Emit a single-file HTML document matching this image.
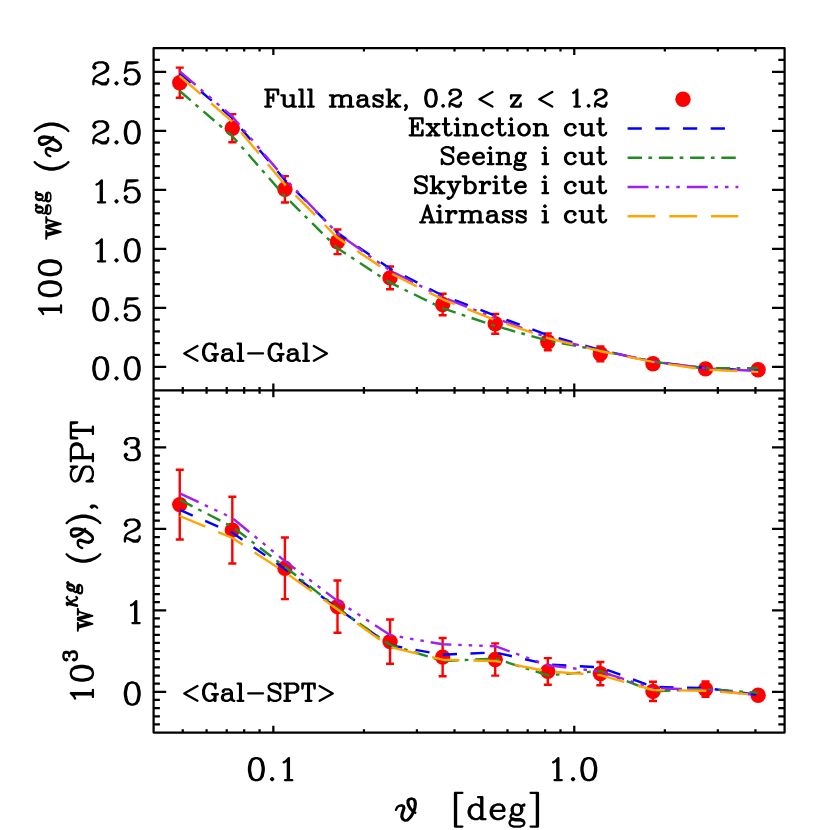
<!DOCTYPE html>
<html><head><meta charset="utf-8"><title>plot</title><style>html,body{margin:0;padding:0;background:#fff;font-family:"Liberation Sans",sans-serif}svg{display:block}</style></head><body><svg width="830" height="830" viewBox="0 0 830 830">
<rect width="830" height="830" fill="#fff"/>
<path d="M153.6 48.15H784.6V732.55H153.6ZM153.6 390.35H784.6M273.35 48.15v6.84M273.35 383.51v13.68M273.35 732.55v-6.84M574.27 48.15v6.84M574.27 383.51v13.68M574.27 732.55v-6.84M182.76 48.15v3.42M182.76 386.93v6.84M182.76 732.55v-3.42M206.59 48.15v3.42M206.59 386.93v6.84M206.59 732.55v-3.42M226.73 48.15v3.42M226.73 386.93v6.84M226.73 732.55v-3.42M244.19 48.15v3.42M244.19 386.93v6.84M244.19 732.55v-3.42M259.58 48.15v3.42M259.58 386.93v6.84M259.58 732.55v-3.42M363.93 48.15v3.42M363.93 386.93v6.84M363.93 732.55v-3.42M416.92 48.15v3.42M416.92 386.93v6.84M416.92 732.55v-3.42M454.52 48.15v3.42M454.52 386.93v6.84M454.52 732.55v-3.42M483.68 48.15v3.42M483.68 386.93v6.84M483.68 732.55v-3.42M507.51 48.15v3.42M507.51 386.93v6.84M507.51 732.55v-3.42M527.65 48.15v3.42M527.65 386.93v6.84M527.65 732.55v-3.42M545.1 48.15v3.42M545.1 386.93v6.84M545.1 732.55v-3.42M560.5 48.15v3.42M560.5 386.93v6.84M560.5 732.55v-3.42M664.85 48.15v3.42M664.85 386.93v6.84M664.85 732.55v-3.42M717.84 48.15v3.42M717.84 386.93v6.84M717.84 732.55v-3.42M755.44 48.15v3.42M755.44 386.93v6.84M755.44 732.55v-3.42M153.6 378.55h6.3M784.6 378.55h-6.3M153.6 366.75h12.6M784.6 366.75h-12.6M153.6 354.95h6.3M784.6 354.95h-6.3M153.6 343.15h6.3M784.6 343.15h-6.3M153.6 331.35h6.3M784.6 331.35h-6.3M153.6 319.55h6.3M784.6 319.55h-6.3M153.6 307.75h12.6M784.6 307.75h-12.6M153.6 295.95h6.3M784.6 295.95h-6.3M153.6 284.15h6.3M784.6 284.15h-6.3M153.6 272.35h6.3M784.6 272.35h-6.3M153.6 260.55h6.3M784.6 260.55h-6.3M153.6 248.75h12.6M784.6 248.75h-12.6M153.6 236.95h6.3M784.6 236.95h-6.3M153.6 225.15h6.3M784.6 225.15h-6.3M153.6 213.35h6.3M784.6 213.35h-6.3M153.6 201.55h6.3M784.6 201.55h-6.3M153.6 189.75h12.6M784.6 189.75h-12.6M153.6 177.95h6.3M784.6 177.95h-6.3M153.6 166.15h6.3M784.6 166.15h-6.3M153.6 154.35h6.3M784.6 154.35h-6.3M153.6 142.55h6.3M784.6 142.55h-6.3M153.6 130.75h12.6M784.6 130.75h-12.6M153.6 118.95h6.3M784.6 118.95h-6.3M153.6 107.15h6.3M784.6 107.15h-6.3M153.6 95.35h6.3M784.6 95.35h-6.3M153.6 83.55h6.3M784.6 83.55h-6.3M153.6 71.75h12.6M784.6 71.75h-12.6M153.6 59.95h6.3M784.6 59.95h-6.3M153.6 724.4h6.3M784.6 724.4h-6.3M153.6 716.25h6.3M784.6 716.25h-6.3M153.6 708.11h6.3M784.6 708.11h-6.3M153.6 699.96h6.3M784.6 699.96h-6.3M153.6 691.81h12.6M784.6 691.81h-12.6M153.6 683.66h6.3M784.6 683.66h-6.3M153.6 675.52h6.3M784.6 675.52h-6.3M153.6 667.37h6.3M784.6 667.37h-6.3M153.6 659.22h6.3M784.6 659.22h-6.3M153.6 651.07h6.3M784.6 651.07h-6.3M153.6 642.93h6.3M784.6 642.93h-6.3M153.6 634.78h6.3M784.6 634.78h-6.3M153.6 626.63h6.3M784.6 626.63h-6.3M153.6 618.48h6.3M784.6 618.48h-6.3M153.6 610.34h12.6M784.6 610.34h-12.6M153.6 602.19h6.3M784.6 602.19h-6.3M153.6 594.04h6.3M784.6 594.04h-6.3M153.6 585.89h6.3M784.6 585.89h-6.3M153.6 577.75h6.3M784.6 577.75h-6.3M153.6 569.6h6.3M784.6 569.6h-6.3M153.6 561.45h6.3M784.6 561.45h-6.3M153.6 553.3h6.3M784.6 553.3h-6.3M153.6 545.15h6.3M784.6 545.15h-6.3M153.6 537.01h6.3M784.6 537.01h-6.3M153.6 528.86h12.6M784.6 528.86h-12.6M153.6 520.71h6.3M784.6 520.71h-6.3M153.6 512.56h6.3M784.6 512.56h-6.3M153.6 504.42h6.3M784.6 504.42h-6.3M153.6 496.27h6.3M784.6 496.27h-6.3M153.6 488.12h6.3M784.6 488.12h-6.3M153.6 479.97h6.3M784.6 479.97h-6.3M153.6 471.83h6.3M784.6 471.83h-6.3M153.6 463.68h6.3M784.6 463.68h-6.3M153.6 455.53h6.3M784.6 455.53h-6.3M153.6 447.38h12.6M784.6 447.38h-12.6M153.6 439.24h6.3M784.6 439.24h-6.3M153.6 431.09h6.3M784.6 431.09h-6.3M153.6 422.94h6.3M784.6 422.94h-6.3M153.6 414.79h6.3M784.6 414.79h-6.3M153.6 406.65h6.3M784.6 406.65h-6.3M153.6 398.5h6.3M784.6 398.5h-6.3" fill="none" stroke="#000" stroke-width="2.25" stroke-linejoin="round" stroke-linecap="butt"/>
<path d="M179.75 67.6V97.8M175.75 67.6h8M175.75 97.8h8M232.33 114.1V142.3M228.33 114.1h8M228.33 142.3h8M284.91 176.1V202.5M280.91 176.1h8M280.91 202.5h8M337.49 229.5V254.1M333.49 229.5h8M333.49 254.1h8M390.07 266.5V289.3M386.07 266.5h8M386.07 289.3h8M442.65 293.8V315.2M438.65 293.8h8M438.65 315.2h8M495.23 313.9V333.7M491.23 313.9h8M491.23 333.7h8M547.81 333.4V350.2M543.81 333.4h8M543.81 350.2h8M600.39 346.4V361.2M596.39 346.4h8M596.39 361.2h8M652.97 358.8V368.8M648.97 358.8h8M648.97 368.8h8M705.55 365.4V372.4M701.55 365.4h8M701.55 372.4h8M758.13 367.2V372.2M754.13 367.2h8M754.13 372.2h8" fill="none" stroke="#f00" stroke-width="2.4"/>
<circle cx="179.75" cy="82.7" r="7.7" fill="#f00"/>
<circle cx="232.33" cy="128.2" r="7.7" fill="#f00"/>
<circle cx="284.91" cy="189.3" r="7.7" fill="#f00"/>
<circle cx="337.49" cy="241.8" r="7.7" fill="#f00"/>
<circle cx="390.07" cy="277.9" r="7.7" fill="#f00"/>
<circle cx="442.65" cy="304.5" r="7.7" fill="#f00"/>
<circle cx="495.23" cy="323.8" r="7.7" fill="#f00"/>
<circle cx="547.81" cy="341.8" r="7.7" fill="#f00"/>
<circle cx="600.39" cy="353.8" r="7.7" fill="#f00"/>
<circle cx="652.97" cy="363.8" r="7.7" fill="#f00"/>
<circle cx="705.55" cy="368.9" r="7.7" fill="#f00"/>
<circle cx="758.13" cy="369.7" r="7.7" fill="#f00"/>
<polyline points="179.75,73.65 232.33,118.1 284.91,180 337.49,232.85 390.07,268.7 442.65,295.6 495.23,315.6 547.81,335.2 600.39,350 652.97,361.6 705.55,368.3 758.13,370.2" fill="none" stroke="#0000ff" stroke-width="2.4" stroke-dasharray="14.2 13.5" stroke-linejoin="round"/>
<polyline points="179.75,91 232.33,136.2 284.91,196.2 337.49,248.3 390.07,282.7 442.65,308.2 495.23,326 547.81,340.6 600.39,350.5 652.97,361.7 705.55,368.3 758.13,368.3" fill="none" stroke="#228b22" stroke-width="2.4" stroke-dasharray="14.4 6.4 3.7 6.75" stroke-linejoin="round"/>
<polyline points="179.75,71.3 232.33,116.5 284.91,178.6 337.49,233.3 390.07,270.5 442.65,297.3 495.23,318 547.81,337.6 600.39,350.3 652.97,361.5 705.55,368.4 758.13,371" fill="none" stroke="#a020f0" stroke-width="2.4" stroke-dasharray="20.9 6.8 3.5 7 3.5 7 3.5 7" stroke-linejoin="round"/>
<polyline points="179.75,75.97 232.33,121.7 284.91,184.6 337.49,237.8 390.07,273 442.65,299.3 495.23,320.1 547.81,338.05 600.39,351.2 652.97,361.9 705.55,369.7 758.13,371.9" fill="none" stroke="#ffa500" stroke-width="2.4" stroke-dasharray="27.8 13.9" stroke-linejoin="round"/>
<path d="M179.75 469.7V539.5M175.75 469.7h8M175.75 539.5h8M232.33 496.7V563.5M228.33 496.7h8M228.33 563.5h8M284.91 537.5V599.1M280.91 537.5h8M280.91 599.1h8M337.49 580.5V632.7M333.49 580.5h8M333.49 632.7h8M390.07 619.5V663.7M386.07 619.5h8M386.07 663.7h8M442.65 638V676.2M438.65 638h8M438.65 676.2h8M495.23 643.4V675.6M491.23 643.4h8M491.23 675.6h8M547.81 658.1V684.7M543.81 658.1h8M543.81 684.7h8M600.39 662V685.2M596.39 662h8M596.39 685.2h8M652.97 681.8V701M648.97 681.8h8M648.97 701h8M705.55 681.5V696.9M701.55 681.5h8M701.55 696.9h8M758.13 690.2V700.2M754.13 690.2h8M754.13 700.2h8" fill="none" stroke="#f00" stroke-width="2.4"/>
<circle cx="179.75" cy="504.6" r="7.7" fill="#f00"/>
<circle cx="232.33" cy="530.1" r="7.7" fill="#f00"/>
<circle cx="284.91" cy="568.3" r="7.7" fill="#f00"/>
<circle cx="337.49" cy="606.6" r="7.7" fill="#f00"/>
<circle cx="390.07" cy="641.6" r="7.7" fill="#f00"/>
<circle cx="442.65" cy="657.1" r="7.7" fill="#f00"/>
<circle cx="495.23" cy="659.5" r="7.7" fill="#f00"/>
<circle cx="547.81" cy="671.4" r="7.7" fill="#f00"/>
<circle cx="600.39" cy="673.6" r="7.7" fill="#f00"/>
<circle cx="652.97" cy="691.4" r="7.7" fill="#f00"/>
<circle cx="705.55" cy="689.2" r="7.7" fill="#f00"/>
<circle cx="758.13" cy="695.2" r="7.7" fill="#f00"/>
<polyline points="179.75,509.9 232.33,532.7 284.91,568.9 337.49,608.3 390.07,645.3 442.65,654.7 495.23,652.4 547.81,664.5 600.39,667.3 652.97,686.9 705.55,688 758.13,694.9" fill="none" stroke="#0000ff" stroke-width="2.4" stroke-dasharray="14.2 13.5" stroke-linejoin="round"/>
<polyline points="179.75,499.8 232.33,526.7 284.91,566.8 337.49,608 390.07,644.9 442.65,661 495.23,658.6 547.81,675.3 600.39,671 652.97,691.4 705.55,688.9 758.13,692.8" fill="none" stroke="#228b22" stroke-width="2.4" stroke-dasharray="14.4 6.4 3.7 6.75" stroke-linejoin="round"/>
<polyline points="179.75,493.3 232.33,518 284.91,561.1 337.49,600.9 390.07,635.1 442.65,644.3 495.23,646.2 547.81,665.2 600.39,671.6 652.97,688.4 705.55,689.5 758.13,695.3" fill="none" stroke="#a020f0" stroke-width="2.4" stroke-dasharray="20.9 6.8 3.5 7 3.5 7 3.5 7" stroke-linejoin="round"/>
<polyline points="179.75,516 232.33,538 284.91,572.2 337.49,609.4 390.07,647 442.65,659.7 495.23,661 547.81,671.4 600.39,675.1 652.97,690 705.55,690.7 758.13,694.9" fill="none" stroke="#ffa500" stroke-width="2.4" stroke-dasharray="27.8 13.9" stroke-linejoin="round"/>
<circle cx="683" cy="99.2" r="7.7" fill="#f00"/>
<path d="M627.6 128.5H738.3" fill="none" stroke="#0000ff" stroke-width="2.4" stroke-dasharray="14.2 13.5"/>
<path d="M627.6 157.75H738.3" fill="none" stroke="#228b22" stroke-width="2.4" stroke-dasharray="14.4 6.4 3.7 6.75"/>
<path d="M627.6 187.0H738.3" fill="none" stroke="#a020f0" stroke-width="2.4" stroke-dasharray="20.9 6.8 3.5 7 3.5 7 3.5 7"/>
<path d="M627.6 216.2H738.3" fill="none" stroke="#ffa500" stroke-width="2.4" stroke-dasharray="27.8 13.9"/>
<path d="M267.64 89.62L267.64 106.6M268.45 89.62L268.45 106.6M265.21 89.62L278.15 89.62L278.15 94.47L277.34 89.62M273.3 94.47L273.3 100.94M265.21 106.6L270.87 106.6M268.45 97.71L273.3 97.71M292.7 95.28L292.7 106.6L295.94 106.6M293.51 106.6L293.51 95.28L290.28 95.28M283.81 95.28L283.81 104.17L284.62 105.79L287.04 106.6L285.43 105.79L284.62 104.17L284.62 95.28L281.38 95.28M287.04 106.6L288.66 106.6L291.08 105.79L292.7 104.17M301.6 89.62L301.6 106.6M302.4 106.6L302.4 89.62L299.17 89.62M299.17 106.6L304.83 106.6M310.49 89.62L310.49 106.6M311.3 106.6L311.3 89.62L308.06 89.62M308.06 106.6L313.72 106.6M332.32 95.28L332.32 106.6M333.13 106.6L333.13 95.28L329.89 95.28M341.21 106.6L341.21 97.71L340.4 96.09L338.79 95.28L341.21 96.09L342.02 97.71L342.02 106.6M342.02 97.71L343.64 96.09L346.06 95.28L347.68 95.28L350.11 96.09L350.91 97.71L350.91 106.6M350.11 106.6L350.11 97.71L349.3 96.09L347.68 95.28M329.89 106.6L335.55 106.6M338.79 106.6L344.45 106.6M347.68 106.6L353.34 106.6M338.79 95.28L337.17 95.28L334.74 96.09L333.13 97.71M366.28 96.9L366.28 104.17L364.66 105.79L363.04 106.6L360.62 106.6L358.19 105.79L357.38 104.17L357.38 102.56L358.19 100.94L360.62 100.13L365.47 99.32L366.28 98.51M366.28 96.9L367.08 98.51L367.08 104.17L367.89 105.79L368.7 106.6L367.08 105.79L366.28 104.17M366.28 96.9L365.47 96.09L363.85 95.28L360.62 95.28L359 96.09L358.19 96.9L358.19 97.71L359 97.71L359 96.9M360.62 100.13L359 100.94L358.19 102.56L358.19 104.17L359 105.79L360.62 106.6M368.7 106.6L369.51 106.6M374.36 104.98L373.55 103.37L373.55 106.6L374.36 104.98L375.17 105.79L376.79 106.6L380.02 106.6L381.64 105.79L382.45 104.98L382.45 102.56L381.64 101.75L374.36 98.51L373.55 97.71M381.64 96.9L382.45 95.28L382.45 98.51L381.64 96.9L380.83 96.09L379.21 95.28L375.98 95.28L374.36 96.09L373.55 96.9L373.55 98.51L374.36 99.32L381.64 102.56L382.45 103.37M388.91 89.62L388.91 106.6M389.72 106.6L389.72 89.62L386.49 89.62M389.72 103.37L397.81 95.28M392.96 100.13L397.81 106.6M393.76 100.13L398.62 106.6M386.49 106.6L392.15 106.6M395.38 95.28L400.23 95.28M395.38 106.6L400.23 106.6M405.89 106.6L405.08 105.79L405.89 104.98L406.7 105.79L406.7 107.41L405.89 109.03L405.08 109.83M430.15 89.62L427.72 90.43L426.1 92.86L425.3 96.9L425.3 99.32L426.1 103.37L427.72 105.79L430.15 106.6L428.53 105.79L427.72 104.98L426.91 103.37L426.1 99.32L426.1 96.9L426.91 92.86L427.72 91.24L428.53 90.43L430.15 89.62L431.76 89.62L434.19 90.43L435.81 92.86L436.62 96.9L436.62 99.32L435.81 103.37L434.19 105.79L431.76 106.6L433.38 105.79L434.19 104.98L435 103.37L435.81 99.32L435.81 96.9L435 92.86L434.19 91.24L433.38 90.43L431.76 89.62M430.15 106.6L431.76 106.6M442.27 105.79L443.08 104.98L443.89 105.79L443.08 106.6L442.27 105.79M451.98 104.17L456.02 106.6L459.25 106.6L460.06 105.79L460.87 104.17L460.87 102.56M451.98 104.17L456.02 105.79L458.44 105.79L460.06 104.98L460.87 104.17M451.98 104.17L450.36 104.17L449.55 104.98M453.59 99.32L457.64 97.71L460.06 96.09L460.87 94.47L460.87 92.86L460.06 91.24L459.25 90.43L456.83 89.62L453.59 89.62L451.17 90.43L450.36 91.24L449.55 92.86L449.55 93.66L450.36 94.47L451.17 93.66L450.36 92.86M456.83 89.62L458.44 90.43L459.25 91.24L460.06 92.86L460.06 94.47L459.25 96.09L456.83 97.71L451.98 100.13L450.36 101.75L449.55 104.17L449.55 106.6M492.4 92.05L479.47 99.32L492.4 106.6M519.89 95.28L511 106.6L520.7 106.6L520.7 103.37L519.89 106.6M511.81 106.6L520.7 95.28L511 95.28L511 98.51L511.81 95.28M552.23 92.05L539.29 99.32L552.23 106.6M577.29 106.6L577.29 89.62L574.87 92.05L573.25 92.86M576.49 90.43L576.49 106.6M574.38 106.6L579.88 106.6M587.8 105.79L588.61 104.98L589.42 105.79L588.61 106.6L587.8 105.79M597.51 104.17L601.55 106.6L604.78 106.6L605.59 105.79L606.4 104.17L606.4 102.56M597.51 104.17L601.55 105.79L603.97 105.79L605.59 104.98L606.4 104.17M597.51 104.17L595.89 104.17L595.08 104.98M599.12 99.32L603.17 97.71L605.59 96.09L606.4 94.47L606.4 92.86L605.59 91.24L604.78 90.43L602.36 89.62L599.12 89.62L596.7 90.43L595.89 91.24L595.08 92.86L595.08 93.66L595.89 94.47L596.7 93.66L595.89 92.86M602.36 89.62L603.97 90.43L604.78 91.24L605.59 92.86L605.59 94.47L604.78 96.09L602.36 97.71L597.51 100.13L595.89 101.75L595.08 104.17L595.08 106.6M412.1 118.4L412.1 135.3M412.9 118.4L412.9 135.3M409.68 118.4L422.56 118.4L422.56 123.23L421.75 118.4M409.68 135.3L422.56 135.3L422.56 130.47L421.75 135.3M417.73 123.23L417.73 129.67M412.9 126.45L417.73 126.45M428.2 135.3L437.86 124.03M428.2 124.03L437.05 135.3M429 124.03L437.86 135.3M426.59 124.03L431.42 124.03M426.59 135.3L431.42 135.3M434.63 124.03L439.47 124.03M434.63 135.3L439.47 135.3M445.1 118.4L445.1 132.08L445.9 134.5L447.51 135.3L449.12 135.3L450.74 134.5L451.54 132.89M445.9 118.4L445.9 132.08L446.71 134.5L447.51 135.3M442.69 124.03L449.12 124.03M457.18 124.03L457.18 135.3M457.98 135.3L457.98 124.03L454.76 124.03M454.76 135.3L460.39 135.3M456.37 119.2L457.18 118.4L457.98 119.2L457.18 120.01L456.37 119.2M466.03 124.03L466.03 135.3M466.84 135.3L466.84 124.03L463.62 124.03M474.88 135.3L474.88 126.45L474.08 124.84L472.47 124.03L474.88 124.84L475.69 126.45L475.69 135.3M463.62 135.3L469.25 135.3M472.47 135.3L478.11 135.3M472.47 124.03L470.86 124.03L468.45 124.84L466.84 126.45M486.96 124.03L484.55 124.84L482.94 126.45L482.13 128.86L482.13 130.47L482.94 132.89L484.55 134.5L486.96 135.3L485.35 134.5L483.74 132.89L482.94 130.47L482.94 128.86L483.74 126.45L485.35 124.84L486.96 124.03L489.38 124.03L490.99 124.84L492.6 126.45L492.6 127.25L491.79 128.06L490.99 127.25L491.79 126.45M486.96 135.3L488.57 135.3L490.99 134.5L492.6 132.89M499.04 118.4L499.04 132.08L499.84 134.5L501.45 135.3L503.06 135.3L504.67 134.5L505.48 132.89M499.84 118.4L499.84 132.08L500.64 134.5L501.45 135.3M496.62 124.03L503.06 124.03M511.11 124.03L511.11 135.3M511.92 135.3L511.92 124.03L508.7 124.03M508.7 135.3L514.33 135.3M510.31 119.2L511.11 118.4L511.92 119.2L511.11 120.01L510.31 119.2M523.19 124.03L520.77 124.84L519.16 126.45L518.36 128.86L518.36 130.47L519.16 132.89L520.77 134.5L523.19 135.3L521.58 134.5L519.97 132.89L519.16 130.47L519.16 128.86L519.97 126.45L521.58 124.84L523.19 124.03L524.8 124.03L527.21 124.84L528.82 126.45L529.62 128.86L529.62 130.47L528.82 132.89L527.21 134.5L524.8 135.3L526.4 134.5L528.01 132.89L528.82 130.47L528.82 128.86L528.01 126.45L526.4 124.84L524.8 124.03M523.19 135.3L524.8 135.3M536.07 124.03L536.07 135.3M536.87 135.3L536.87 124.03L533.65 124.03M544.92 135.3L544.92 126.45L544.12 124.84L542.5 124.03L544.92 124.84L545.73 126.45L545.73 135.3M533.65 135.3L539.29 135.3M542.5 135.3L548.14 135.3M542.5 124.03L540.89 124.03L538.48 124.84L536.87 126.45M569.88 124.03L567.46 124.84L565.85 126.45L565.05 128.86L565.05 130.47L565.85 132.89L567.46 134.5L569.88 135.3L568.26 134.5L566.65 132.89L565.85 130.47L565.85 128.86L566.65 126.45L568.26 124.84L569.88 124.03L572.29 124.03L573.9 124.84L575.51 126.45L575.51 127.25L574.71 128.06L573.9 127.25L574.71 126.45M569.88 135.3L571.49 135.3L573.9 134.5L575.51 132.89M590.81 124.03L590.81 135.3L594.02 135.3M591.61 135.3L591.61 124.03L588.39 124.03M581.95 124.03L581.95 132.89L582.75 134.5L585.17 135.3L583.56 134.5L582.75 132.89L582.75 124.03L579.53 124.03M585.17 135.3L586.78 135.3L589.2 134.5L590.81 132.89M599.66 118.4L599.66 132.08L600.47 134.5L602.08 135.3L603.69 135.3L605.3 134.5L606.1 132.89M600.47 118.4L600.47 132.08L601.27 134.5L602.08 135.3M597.25 124.03L603.69 124.03M453.15 158.47L453.15 161.69L451.54 163.29L449.12 164.1L446.71 164.1L444.3 163.29L442.69 161.69L441.88 159.27L441.88 164.1L442.69 161.69M453.15 158.47L451.54 156.85L449.93 156.05L445.1 154.44L443.49 153.63L442.69 152.83L441.88 151.22L443.49 152.83L445.1 153.63L449.93 155.25L451.54 156.05L452.35 156.85L453.15 158.47M452.35 149.61L453.15 147.19L453.15 152.03L452.35 149.61L450.74 148L448.32 147.19L445.9 147.19L443.49 148L441.88 149.61L441.88 151.22M458.79 157.66L468.45 157.66L468.45 156.05L467.64 154.44L466.84 153.63L465.23 152.83L462.81 152.83L460.39 153.63L458.79 155.25L457.98 157.66L457.98 159.27L458.79 161.69L460.39 163.29L462.81 164.1L461.2 163.29L459.59 161.69L458.79 159.27L458.79 157.66L459.59 155.25L461.2 153.63L462.81 152.83M462.81 164.1L464.42 164.1L466.84 163.29L468.45 161.69M467.64 157.66L467.64 155.25L466.84 153.63M474.08 157.66L483.74 157.66L483.74 156.05L482.94 154.44L482.13 153.63L480.52 152.83L478.11 152.83L475.69 153.63L474.08 155.25L473.27 157.66L473.27 159.27L474.08 161.69L475.69 163.29L478.11 164.1L476.5 163.29L474.88 161.69L474.08 159.27L474.08 157.66L474.88 155.25L476.5 153.63L478.11 152.83M478.11 164.1L479.72 164.1L482.13 163.29L483.74 161.69M482.94 157.66L482.94 155.25L482.13 153.63M490.18 152.83L490.18 164.1M490.99 164.1L490.99 152.83L487.76 152.83M487.76 164.1L493.4 164.1M489.38 148L490.18 147.19L490.99 148L490.18 148.81L489.38 148M499.04 152.83L499.04 164.1M499.84 164.1L499.84 152.83L496.62 152.83M507.89 164.1L507.89 155.25L507.09 153.63L505.48 152.83L507.89 153.63L508.7 155.25L508.7 164.1M496.62 164.1L502.25 164.1M505.48 164.1L511.11 164.1M505.48 152.83L503.87 152.83L501.45 153.63L499.84 155.25M517.55 164.1L515.13 164.91L514.33 166.51L514.33 167.32L515.13 168.93L517.55 169.73L522.38 169.73L524.8 168.93L525.6 167.32L525.6 166.51L524.8 164.91L522.38 164.1L518.36 164.1L515.94 163.29L515.13 162.49L515.94 164.1L518.36 164.91L522.38 164.91L524.8 165.71L525.6 166.51M515.13 162.49L515.13 161.69L515.94 160.07L516.75 159.27L515.94 157.66L515.94 156.05L516.75 154.44L517.55 153.63L516.75 155.25L516.75 158.47L517.55 160.07L519.16 160.88L520.77 160.88L522.38 160.07L523.19 158.47L523.19 155.25L522.38 153.63L520.77 152.83L519.16 152.83L517.55 153.63M516.75 159.27L517.55 160.07M522.38 153.63L523.19 154.44L523.99 156.05L523.99 157.66L523.19 159.27L522.38 160.07M523.19 154.44L523.99 153.63L525.6 152.83L525.6 153.63L523.99 153.63M544.92 152.83L544.92 164.1M545.73 164.1L545.73 152.83L542.5 152.83M542.5 164.1L548.14 164.1M544.12 148L544.92 147.19L545.73 148L544.92 148.81L544.12 148M569.88 152.83L567.46 153.63L565.85 155.25L565.05 157.66L565.05 159.27L565.85 161.69L567.46 163.29L569.88 164.1L568.26 163.29L566.65 161.69L565.85 159.27L565.85 157.66L566.65 155.25L568.26 153.63L569.88 152.83L572.29 152.83L573.9 153.63L575.51 155.25L575.51 156.05L574.71 156.85L573.9 156.05L574.71 155.25M569.88 164.1L571.49 164.1L573.9 163.29L575.51 161.69M590.81 152.83L590.81 164.1L594.02 164.1M591.61 164.1L591.61 152.83L588.39 152.83M581.95 152.83L581.95 161.69L582.75 163.29L585.17 164.1L583.56 163.29L582.75 161.69L582.75 152.83L579.53 152.83M585.17 164.1L586.78 164.1L589.2 163.29L590.81 161.69M599.66 147.19L599.66 160.88L600.47 163.29L602.08 164.1L603.69 164.1L605.3 163.29L606.1 161.69M600.47 147.19L600.47 160.88L601.27 163.29L602.08 164.1M597.25 152.83L603.69 152.83M426.59 187.56L426.59 190.78L424.98 192.39L422.56 193.2L420.14 193.2L417.73 192.39L416.12 190.78L415.31 188.37L415.31 193.2L416.12 190.78M426.59 187.56L424.98 185.95L423.37 185.15L418.54 183.54L416.93 182.73L416.12 181.93L415.31 180.32L416.93 181.93L418.54 182.73L423.37 184.34L424.98 185.15L425.78 185.95L426.59 187.56M425.78 178.71L426.59 176.29L426.59 181.12L425.78 178.71L424.17 177.1L421.75 176.29L419.34 176.29L416.93 177.1L415.31 178.71L415.31 180.32M433.02 176.29L433.02 193.2M433.83 193.2L433.83 176.29L430.61 176.29M433.83 189.98L441.88 181.93M437.05 186.76L441.88 193.2M437.86 186.76L442.69 193.2M430.61 193.2L436.25 193.2M439.47 181.93L444.3 181.93M439.47 193.2L444.3 193.2M449.12 181.93L453.96 193.2L458.79 181.93M453.96 193.2L452.35 196.42L450.74 198.03L449.12 198.83L448.32 198.83L447.51 198.03L448.32 197.22L449.12 198.03M449.93 181.93L453.96 191.59M453.15 194.81L456.37 187.56M447.51 181.93L452.35 181.93M455.57 181.93L460.39 181.93M465.23 176.29L465.23 193.2M466.03 193.2L466.03 176.29L462.81 176.29M470.86 181.93L473.27 182.73L474.88 184.34L475.69 186.76L475.69 188.37L474.88 190.78L473.27 192.39L470.86 193.2L472.47 192.39L474.08 190.78L474.88 188.37L474.88 186.76L474.08 184.34L472.47 182.73L470.86 181.93L469.25 181.93L467.64 182.73L466.03 184.34M470.86 193.2L469.25 193.2L467.64 192.39L466.03 190.78M482.13 181.93L482.13 193.2M482.94 193.2L482.94 181.93L479.72 181.93M479.72 193.2L485.35 193.2M482.94 186.76L483.74 184.34L485.35 182.73L486.96 181.93L489.38 181.93L490.18 182.73L490.18 183.54L489.38 184.34L488.57 183.54L489.38 182.73M495.81 181.93L495.81 193.2M496.62 193.2L496.62 181.93L493.4 181.93M493.4 193.2L499.04 193.2M495.01 177.1L495.81 176.29L496.62 177.1L495.81 177.9L495.01 177.1M504.67 176.29L504.67 189.98L505.48 192.39L507.09 193.2L508.7 193.2L510.31 192.39L511.11 190.78M505.48 176.29L505.48 189.98L506.28 192.39L507.09 193.2M502.25 181.93L508.7 181.93M515.94 186.76L525.6 186.76L525.6 185.15L524.8 183.54L523.99 182.73L522.38 181.93L519.97 181.93L517.55 182.73L515.94 184.34L515.13 186.76L515.13 188.37L515.94 190.78L517.55 192.39L519.97 193.2L518.36 192.39L516.75 190.78L515.94 188.37L515.94 186.76L516.75 184.34L518.36 182.73L519.97 181.93M519.97 193.2L521.58 193.2L523.99 192.39L525.6 190.78M524.8 186.76L524.8 184.34L523.99 182.73M544.92 181.93L544.92 193.2M545.73 193.2L545.73 181.93L542.5 181.93M542.5 193.2L548.14 193.2M544.12 177.1L544.92 176.29L545.73 177.1L544.92 177.9L544.12 177.1M569.88 181.93L567.46 182.73L565.85 184.34L565.05 186.76L565.05 188.37L565.85 190.78L567.46 192.39L569.88 193.2L568.26 192.39L566.65 190.78L565.85 188.37L565.85 186.76L566.65 184.34L568.26 182.73L569.88 181.93L572.29 181.93L573.9 182.73L575.51 184.34L575.51 185.15L574.71 185.95L573.9 185.15L574.71 184.34M569.88 193.2L571.49 193.2L573.9 192.39L575.51 190.78M590.81 181.93L590.81 193.2L594.02 193.2M591.61 193.2L591.61 181.93L588.39 181.93M581.95 181.93L581.95 190.78L582.75 192.39L585.17 193.2L583.56 192.39L582.75 190.78L582.75 181.93L579.53 181.93M585.17 193.2L586.78 193.2L589.2 192.39L590.81 190.78M599.66 176.29L599.66 189.98L600.47 192.39L602.08 193.2L603.69 193.2L605.3 192.39L606.1 190.78M600.47 176.29L600.47 189.98L601.27 192.39L602.08 193.2M597.25 181.93L603.69 181.93M421.75 222.3L427.39 205.4L433.02 222.3M427.39 207.81L432.22 222.3M423.37 217.47L430.61 217.47M420.14 222.3L424.98 222.3M429.81 222.3L434.63 222.3M439.47 211.03L439.47 222.3M440.27 222.3L440.27 211.03L437.05 211.03M437.05 222.3L442.69 222.3M438.66 206.2L439.47 205.4L440.27 206.2L439.47 207L438.66 206.2M448.32 211.03L448.32 222.3M449.12 222.3L449.12 211.03L445.9 211.03M445.9 222.3L451.54 222.3M449.12 215.86L449.93 213.45L451.54 211.84L453.15 211.03L455.57 211.03L456.37 211.84L456.37 212.64L455.57 213.45L454.76 212.64L455.57 211.84M462 211.03L462 222.3M462.81 222.3L462.81 211.03L459.59 211.03M470.86 222.3L470.86 213.45L470.06 211.84L468.45 211.03L470.86 211.84L471.67 213.45L471.67 222.3M471.67 213.45L473.27 211.84L475.69 211.03L477.3 211.03L479.72 211.84L480.52 213.45L480.52 222.3M479.72 222.3L479.72 213.45L478.91 211.84L477.3 211.03M459.59 222.3L465.23 222.3M468.45 222.3L474.08 222.3M477.3 222.3L482.94 222.3M468.45 211.03L466.84 211.03L464.42 211.84L462.81 213.45M495.81 212.64L495.81 219.89L494.21 221.5L492.6 222.3L490.18 222.3L487.76 221.5L486.96 219.89L486.96 218.28L487.76 216.67L490.18 215.86L495.01 215.06L495.81 214.25M495.81 212.64L496.62 214.25L496.62 219.89L497.43 221.5L498.23 222.3L496.62 221.5L495.81 219.89M495.81 212.64L495.01 211.84L493.4 211.03L490.18 211.03L488.57 211.84L487.76 212.64L487.76 213.45L488.57 213.45L488.57 212.64M490.18 215.86L488.57 216.67L487.76 218.28L487.76 219.89L488.57 221.5L490.18 222.3M498.23 222.3L499.04 222.3M503.87 220.69L503.06 219.08L503.06 222.3L503.87 220.69L504.67 221.5L506.28 222.3L509.5 222.3L511.11 221.5L511.92 220.69L511.92 218.28L511.11 217.47L503.87 214.25L503.06 213.45M511.11 212.64L511.92 211.03L511.92 214.25L511.11 212.64L510.31 211.84L508.7 211.03L505.48 211.03L503.87 211.84L503.06 212.64L503.06 214.25L503.87 215.06L511.11 218.28L511.92 219.08M517.55 220.69L516.75 219.08L516.75 222.3L517.55 220.69L518.36 221.5L519.97 222.3L523.19 222.3L524.8 221.5L525.6 220.69L525.6 218.28L524.8 217.47L517.55 214.25L516.75 213.45M524.8 212.64L525.6 211.03L525.6 214.25L524.8 212.64L523.99 211.84L522.38 211.03L519.16 211.03L517.55 211.84L516.75 212.64L516.75 214.25L517.55 215.06L524.8 218.28L525.6 219.08M544.92 211.03L544.92 222.3M545.73 222.3L545.73 211.03L542.5 211.03M542.5 222.3L548.14 222.3M544.12 206.2L544.92 205.4L545.73 206.2L544.92 207L544.12 206.2M569.88 211.03L567.46 211.84L565.85 213.45L565.05 215.86L565.05 217.47L565.85 219.89L567.46 221.5L569.88 222.3L568.26 221.5L566.65 219.89L565.85 217.47L565.85 215.86L566.65 213.45L568.26 211.84L569.88 211.03L572.29 211.03L573.9 211.84L575.51 213.45L575.51 214.25L574.71 215.06L573.9 214.25L574.71 213.45M569.88 222.3L571.49 222.3L573.9 221.5L575.51 219.89M590.81 211.03L590.81 222.3L594.02 222.3M591.61 222.3L591.61 211.03L588.39 211.03M581.95 211.03L581.95 219.89L582.75 221.5L585.17 222.3L583.56 221.5L582.75 219.89L582.75 211.03L579.53 211.03M585.17 222.3L586.78 222.3L589.2 221.5L590.81 219.89M599.66 205.4L599.66 219.08L600.47 221.5L602.08 222.3L603.69 222.3L605.3 221.5L606.1 219.89M600.47 205.4L600.47 219.08L601.27 221.5L602.08 222.3M597.25 211.03L603.69 211.03M197.42 346.04L184.3 353.42L197.42 360.8M214.64 354.24L214.64 360.8M215.46 354.24L215.46 360.8M212.18 354.24L217.92 354.24M208.9 343.58L206.44 344.4L204.8 346.04L203.98 347.68L203.16 350.14L203.16 354.24L203.98 356.7L204.8 358.34L206.44 359.98L208.9 360.8L207.26 359.98L205.62 358.34L204.8 356.7L203.98 354.24L203.98 350.14L204.8 347.68L205.62 346.04L207.26 344.4L208.9 343.58L210.54 343.58L213 344.4L214.64 346.04L215.46 343.58L215.46 348.5L214.64 346.04M208.9 360.8L210.54 360.8L213 359.98L214.64 358.34M231.04 350.96L231.04 358.34L229.4 359.98L227.76 360.8L225.3 360.8L222.84 359.98L222.02 358.34L222.02 356.7L222.84 355.06L225.3 354.24L230.22 353.42L231.04 352.6M231.04 350.96L231.86 352.6L231.86 358.34L232.68 359.98L233.5 360.8L231.86 359.98L231.04 358.34M231.04 350.96L230.22 350.14L228.58 349.32L225.3 349.32L223.66 350.14L222.84 350.96L222.84 351.78L223.66 351.78L223.66 350.96M225.3 354.24L223.66 355.06L222.84 356.7L222.84 358.34L223.66 359.98L225.3 360.8M233.5 360.8L234.32 360.8M240.06 343.58L240.06 360.8M240.88 360.8L240.88 343.58L237.6 343.58M237.6 360.8L243.34 360.8M248.26 353.42L263.02 353.42M280.24 354.24L280.24 360.8M281.06 354.24L281.06 360.8M277.78 354.24L283.52 354.24M274.5 343.58L272.04 344.4L270.4 346.04L269.58 347.68L268.76 350.14L268.76 354.24L269.58 356.7L270.4 358.34L272.04 359.98L274.5 360.8L272.86 359.98L271.22 358.34L270.4 356.7L269.58 354.24L269.58 350.14L270.4 347.68L271.22 346.04L272.86 344.4L274.5 343.58L276.14 343.58L278.6 344.4L280.24 346.04L281.06 343.58L281.06 348.5L280.24 346.04M274.5 360.8L276.14 360.8L278.6 359.98L280.24 358.34M296.64 350.96L296.64 358.34L295 359.98L293.36 360.8L290.9 360.8L288.44 359.98L287.62 358.34L287.62 356.7L288.44 355.06L290.9 354.24L295.82 353.42L296.64 352.6M296.64 350.96L297.46 352.6L297.46 358.34L298.28 359.98L299.1 360.8L297.46 359.98L296.64 358.34M296.64 350.96L295.82 350.14L294.18 349.32L290.9 349.32L289.26 350.14L288.44 350.96L288.44 351.78L289.26 351.78L289.26 350.96M290.9 354.24L289.26 355.06L288.44 356.7L288.44 358.34L289.26 359.98L290.9 360.8M299.1 360.8L299.92 360.8M305.66 343.58L305.66 360.8M306.48 360.8L306.48 343.58L303.2 343.58M303.2 360.8L308.94 360.8M313.86 346.04L326.98 353.42L313.86 360.8M197.42 686.04L184.3 693.42L197.42 700.8M214.64 694.24L214.64 700.8M215.46 694.24L215.46 700.8M212.18 694.24L217.92 694.24M208.9 683.58L206.44 684.4L204.8 686.04L203.98 687.68L203.16 690.14L203.16 694.24L203.98 696.7L204.8 698.34L206.44 699.98L208.9 700.8L207.26 699.98L205.62 698.34L204.8 696.7L203.98 694.24L203.98 690.14L204.8 687.68L205.62 686.04L207.26 684.4L208.9 683.58L210.54 683.58L213 684.4L214.64 686.04L215.46 683.58L215.46 688.5L214.64 686.04M208.9 700.8L210.54 700.8L213 699.98L214.64 698.34M231.04 690.96L231.04 698.34L229.4 699.98L227.76 700.8L225.3 700.8L222.84 699.98L222.02 698.34L222.02 696.7L222.84 695.06L225.3 694.24L230.22 693.42L231.04 692.6M231.04 690.96L231.86 692.6L231.86 698.34L232.68 699.98L233.5 700.8L231.86 699.98L231.04 698.34M231.04 690.96L230.22 690.14L228.58 689.32L225.3 689.32L223.66 690.14L222.84 690.96L222.84 691.78L223.66 691.78L223.66 690.96M225.3 694.24L223.66 695.06L222.84 696.7L222.84 698.34L223.66 699.98L225.3 700.8M233.5 700.8L234.32 700.8M240.06 683.58L240.06 700.8M240.88 700.8L240.88 683.58L237.6 683.58M237.6 700.8L243.34 700.8M248.26 693.42L263.02 693.42M280.24 695.06L280.24 698.34L278.6 699.98L276.14 700.8L273.68 700.8L271.22 699.98L269.58 698.34L268.76 695.88L268.76 700.8L269.58 698.34M280.24 695.06L278.6 693.42L276.96 692.6L272.04 690.96L270.4 690.14L269.58 689.32L268.76 687.68L270.4 689.32L272.04 690.14L276.96 691.78L278.6 692.6L279.42 693.42L280.24 695.06M279.42 686.04L280.24 683.58L280.24 688.5L279.42 686.04L277.78 684.4L275.32 683.58L272.86 683.58L270.4 684.4L268.76 686.04L268.76 687.68M286.8 683.58L286.8 700.8M287.62 683.58L287.62 700.8M284.34 683.58L294.18 683.58L296.64 684.4L297.46 685.22L298.28 686.86L298.28 689.32L297.46 690.96L296.64 691.78L294.18 692.6L287.62 692.6M294.18 683.58L295.82 684.4L296.64 685.22L297.46 686.86L297.46 689.32L296.64 690.96L295.82 691.78L294.18 692.6M284.34 700.8L290.08 700.8M308.12 683.58L308.12 700.8M308.94 683.58L308.94 700.8M305.66 700.8L311.4 700.8M303.2 683.58L302.38 688.5L302.38 683.58L314.68 683.58L314.68 688.5L313.86 683.58M319.6 686.04L332.72 693.42L319.6 700.8" fill="none" stroke="#000" stroke-width="2.3" stroke-linecap="round" stroke-linejoin="round"/>
<path d="M99.7 357.3L96.55 358.35L94.45 361.5L93.4 366.75L93.4 369.9L94.45 375.15L96.55 378.3L99.7 379.35L97.6 378.3L96.55 377.25L95.5 375.15L94.45 369.9L94.45 366.75L95.5 361.5L96.55 359.4L97.6 358.35L99.7 357.3L101.8 357.3L104.95 358.35L107.05 361.5L108.1 366.75L108.1 369.9L107.05 375.15L104.95 378.3L101.8 379.35L103.9 378.3L104.95 377.25L106 375.15L107.05 369.9L107.05 366.75L106 361.5L104.95 359.4L103.9 358.35L101.8 357.3M99.7 379.35L101.8 379.35M115.45 378.3L116.5 377.25L117.55 378.3L116.5 379.35L115.45 378.3M131.2 357.3L128.05 358.35L125.95 361.5L124.9 366.75L124.9 369.9L125.95 375.15L128.05 378.3L131.2 379.35L129.1 378.3L128.05 377.25L127 375.15L125.95 369.9L125.95 366.75L127 361.5L128.05 359.4L129.1 358.35L131.2 357.3L133.3 357.3L136.45 358.35L138.55 361.5L139.6 366.75L139.6 369.9L138.55 375.15L136.45 378.3L133.3 379.35L135.4 378.3L136.45 377.25L137.5 375.15L138.55 369.9L138.55 366.75L137.5 361.5L136.45 359.4L135.4 358.35L133.3 357.3M131.2 379.35L133.3 379.35M99.7 298.3L96.55 299.35L94.45 302.5L93.4 307.75L93.4 310.9L94.45 316.15L96.55 319.3L99.7 320.35L97.6 319.3L96.55 318.25L95.5 316.15L94.45 310.9L94.45 307.75L95.5 302.5L96.55 300.4L97.6 299.35L99.7 298.3L101.8 298.3L104.95 299.35L107.05 302.5L108.1 307.75L108.1 310.9L107.05 316.15L104.95 319.3L101.8 320.35L103.9 319.3L104.95 318.25L106 316.15L107.05 310.9L107.05 307.75L106 302.5L104.95 300.4L103.9 299.35L101.8 298.3M99.7 320.35L101.8 320.35M115.45 319.3L116.5 318.25L117.55 319.3L116.5 320.35L115.45 319.3M127 299.35L132.25 299.35L137.5 298.3L127 298.3L124.9 308.8L127 306.7L130.15 305.65L133.3 305.65L136.45 306.7L138.55 308.8L139.6 311.95L139.6 314.05L138.55 317.2L136.45 319.3L133.3 320.35L130.15 320.35L127 319.3L125.95 318.25L124.9 316.15L124.9 315.1L125.95 314.05L127 315.1L125.95 316.15M133.3 305.65L135.4 306.7L137.5 308.8L138.55 311.95L138.55 314.05L137.5 317.2L135.4 319.3L133.3 320.35M101.8 261.35L101.8 239.3L98.65 242.45L96.55 243.5M100.75 240.35L100.75 261.35M98.02 261.35L105.16 261.35M115.45 260.3L116.5 259.25L117.55 260.3L116.5 261.35L115.45 260.3M131.2 239.3L128.05 240.35L125.95 243.5L124.9 248.75L124.9 251.9L125.95 257.15L128.05 260.3L131.2 261.35L129.1 260.3L128.05 259.25L127 257.15L125.95 251.9L125.95 248.75L127 243.5L128.05 241.4L129.1 240.35L131.2 239.3L133.3 239.3L136.45 240.35L138.55 243.5L139.6 248.75L139.6 251.9L138.55 257.15L136.45 260.3L133.3 261.35L135.4 260.3L136.45 259.25L137.5 257.15L138.55 251.9L138.55 248.75L137.5 243.5L136.45 241.4L135.4 240.35L133.3 239.3M131.2 261.35L133.3 261.35M101.8 202.35L101.8 180.3L98.65 183.45L96.55 184.5M100.75 181.35L100.75 202.35M98.02 202.35L105.16 202.35M115.45 201.3L116.5 200.25L117.55 201.3L116.5 202.35L115.45 201.3M127 181.35L132.25 181.35L137.5 180.3L127 180.3L124.9 190.8L127 188.7L130.15 187.65L133.3 187.65L136.45 188.7L138.55 190.8L139.6 193.95L139.6 196.05L138.55 199.2L136.45 201.3L133.3 202.35L130.15 202.35L127 201.3L125.95 200.25L124.9 198.15L124.9 197.1L125.95 196.05L127 197.1L125.95 198.15M133.3 187.65L135.4 188.7L137.5 190.8L138.55 193.95L138.55 196.05L137.5 199.2L135.4 201.3L133.3 202.35M96.55 140.2L101.8 143.35L106 143.35L107.05 142.3L108.1 140.2L108.1 138.1M96.55 140.2L101.8 142.3L104.95 142.3L107.05 141.25L108.1 140.2M96.55 140.2L94.45 140.2L93.4 141.25M98.65 133.9L103.9 131.8L107.05 129.7L108.1 127.6L108.1 125.5L107.05 123.4L106 122.35L102.85 121.3L98.65 121.3L95.5 122.35L94.45 123.4L93.4 125.5L93.4 126.55L94.45 127.6L95.5 126.55L94.45 125.5M102.85 121.3L104.95 122.35L106 123.4L107.05 125.5L107.05 127.6L106 129.7L102.85 131.8L96.55 134.95L94.45 137.05L93.4 140.2L93.4 143.35M115.45 142.3L116.5 141.25L117.55 142.3L116.5 143.35L115.45 142.3M131.2 121.3L128.05 122.35L125.95 125.5L124.9 130.75L124.9 133.9L125.95 139.15L128.05 142.3L131.2 143.35L129.1 142.3L128.05 141.25L127 139.15L125.95 133.9L125.95 130.75L127 125.5L128.05 123.4L129.1 122.35L131.2 121.3L133.3 121.3L136.45 122.35L138.55 125.5L139.6 130.75L139.6 133.9L138.55 139.15L136.45 142.3L133.3 143.35L135.4 142.3L136.45 141.25L137.5 139.15L138.55 133.9L138.55 130.75L137.5 125.5L136.45 123.4L135.4 122.35L133.3 121.3M131.2 143.35L133.3 143.35M96.55 81.2L101.8 84.35L106 84.35L107.05 83.3L108.1 81.2L108.1 79.1M96.55 81.2L101.8 83.3L104.95 83.3L107.05 82.25L108.1 81.2M96.55 81.2L94.45 81.2L93.4 82.25M98.65 74.9L103.9 72.8L107.05 70.7L108.1 68.6L108.1 66.5L107.05 64.4L106 63.35L102.85 62.3L98.65 62.3L95.5 63.35L94.45 64.4L93.4 66.5L93.4 67.55L94.45 68.6L95.5 67.55L94.45 66.5M102.85 62.3L104.95 63.35L106 64.4L107.05 66.5L107.05 68.6L106 70.7L102.85 72.8L96.55 75.95L94.45 78.05L93.4 81.2L93.4 84.35M115.45 83.3L116.5 82.25L117.55 83.3L116.5 84.35L115.45 83.3M127 63.35L132.25 63.35L137.5 62.3L127 62.3L124.9 72.8L127 70.7L130.15 69.65L133.3 69.65L136.45 70.7L138.55 72.8L139.6 75.95L139.6 78.05L138.55 81.2L136.45 83.3L133.3 84.35L130.15 84.35L127 83.3L125.95 82.25L124.9 80.15L124.9 79.1L125.95 78.05L127 79.1L125.95 80.15M133.3 69.65L135.4 70.7L137.5 72.8L138.55 75.95L138.55 78.05L137.5 81.2L135.4 83.3L133.3 84.35M131.2 682.51L128.05 683.56L125.95 686.71L124.9 691.96L124.9 695.11L125.95 700.36L128.05 703.51L131.2 704.56L129.1 703.51L128.05 702.46L127 700.36L125.95 695.11L125.95 691.96L127 686.71L128.05 684.61L129.1 683.56L131.2 682.51L133.3 682.51L136.45 683.56L138.55 686.71L139.6 691.96L139.6 695.11L138.55 700.36L136.45 703.51L133.3 704.56L135.4 703.51L136.45 702.46L137.5 700.36L138.55 695.11L138.55 691.96L137.5 686.71L136.45 684.61L135.4 683.56L133.3 682.51M131.2 704.56L133.3 704.56M136.24 623.09L136.24 601.04L133.09 604.19L130.99 605.24M135.19 602.09L135.19 623.09M132.46 623.09L139.6 623.09M128.05 538.46L133.3 541.61L137.5 541.61L138.55 540.56L139.6 538.46L139.6 536.36M128.05 538.46L133.3 540.56L136.45 540.56L138.55 539.51L139.6 538.46M128.05 538.46L125.95 538.46L124.9 539.51M130.15 532.16L135.4 530.06L138.55 527.96L139.6 525.86L139.6 523.76L138.55 521.66L137.5 520.61L134.35 519.56L130.15 519.56L127 520.61L125.95 521.66L124.9 523.76L124.9 524.81L125.95 525.86L127 524.81L125.95 523.76M134.35 519.56L136.45 520.61L137.5 521.66L138.55 523.76L138.55 525.86L137.5 527.96L134.35 530.06L128.05 533.21L125.95 535.31L124.9 538.46L124.9 541.61M134.35 438.08L130.15 438.08L127 439.13L125.95 440.18L124.9 442.28L124.9 443.33L125.95 444.38L127 443.33L125.95 442.28M134.35 438.08L137.5 439.13L138.55 441.23L138.55 444.38L137.5 446.48L134.35 447.53L131.2 447.53M134.35 438.08L136.45 439.13L137.5 441.23L137.5 444.38L136.45 446.48L134.35 447.53L136.45 448.58L138.55 450.68L139.6 452.78L139.6 455.93L138.55 458.03L137.5 459.08L134.35 460.13L130.15 460.13L127 459.08L125.95 458.03L124.9 455.93L124.9 454.88L125.95 453.83L127 454.88L125.95 455.93M134.35 460.13L136.45 459.08L137.5 458.03L138.55 455.93L138.55 452.78L137.5 449.63M255.3 758.15L252.15 759.2L250.05 762.35L249 767.6L249 770.75L250.05 776L252.15 779.15L255.3 780.2L253.2 779.15L252.15 778.1L251.1 776L250.05 770.75L250.05 767.6L251.1 762.35L252.15 760.25L253.2 759.2L255.3 758.15L257.4 758.15L260.55 759.2L262.65 762.35L263.7 767.6L263.7 770.75L262.65 776L260.55 779.15L257.4 780.2L259.5 779.15L260.55 778.1L261.6 776L262.65 770.75L262.65 767.6L261.6 762.35L260.55 760.25L259.5 759.2L257.4 758.15M255.3 780.2L257.4 780.2M271.05 779.15L272.1 778.1L273.15 779.15L272.1 780.2L271.05 779.15M288.9 780.2L288.9 758.15L285.75 761.3L283.65 762.35M287.85 759.2L287.85 780.2M285.12 780.2L292.26 780.2M558.35 780.2L558.35 758.15L555.2 761.3L553.1 762.35M557.3 759.2L557.3 780.2M554.57 780.2L561.71 780.2M572 779.15L573.05 778.1L574.1 779.15L573.05 780.2L572 779.15M587.75 758.15L584.6 759.2L582.5 762.35L581.45 767.6L581.45 770.75L582.5 776L584.6 779.15L587.75 780.2L585.65 779.15L584.6 778.1L583.55 776L582.5 770.75L582.5 767.6L583.55 762.35L584.6 760.25L585.65 759.2L587.75 758.15L589.85 758.15L593 759.2L595.1 762.35L596.15 767.6L596.15 770.75L595.1 776L593 779.15L589.85 780.2L591.95 779.15L593 778.1L594.05 776L595.1 770.75L595.1 767.6L594.05 762.35L593 760.25L591.95 759.2L589.85 758.15M587.75 780.2L589.85 780.2M396 809.89L397.05 807.48L398.94 805.8L401.14 805.38L402.93 806.11L403.56 808L402.72 810.62L401.67 813.88L401.36 816.82L402.4 819.24L404.61 820.6L406.71 820.28L409.12 818.19L411.33 815.25L413.43 811.25L414.48 807.48L414.9 803.7L414.48 800.97L413.22 799.08L411.01 798.55L408.92 799.08L407.55 800.75L407.55 803.17L408.39 805.8L410.18 808.84L412.38 811.25L415.32 812.83M399.83 805.8L402.04 805.38L403.82 806.11L404.45 808L403.61 810.62L402.56 813.88L402.25 816.82L403.3 819.24L405.5 820.6L407.6 820.28L410.02 818.19L412.22 815.25L414.32 811.25L415.37 807.48L415.79 803.7L415.37 800.97L414.11 799.08L411.91 798.55L409.81 799.08L408.44 800.75L408.44 803.17L409.28 805.8L411.07 808.84L413.27 811.25M456.05 792.95L456.05 826.55M462.35 792.95L455 792.95L455 826.55L462.35 826.55M481.25 797.15L481.25 819.2L485.45 819.2M482.3 819.2L482.3 797.15L478.1 797.15M474.95 804.5L471.8 805.55L469.7 807.65L468.65 810.8L468.65 812.9L469.7 816.05L471.8 818.15L474.95 819.2L472.85 818.15L470.75 816.05L469.7 812.9L469.7 810.8L470.75 807.65L472.85 805.55L474.95 804.5L477.05 804.5L479.15 805.55L481.25 807.65M474.95 819.2L477.05 819.2L479.15 818.15L481.25 816.05M491.75 810.8L504.35 810.8L504.35 808.7L503.3 806.6L502.25 805.55L500.15 804.5L497 804.5L493.85 805.55L491.75 807.65L490.7 810.8L490.7 812.9L491.75 816.05L493.85 818.15L497 819.2L494.9 818.15L492.8 816.05L491.75 812.9L491.75 810.8L492.8 807.65L494.9 805.55L497 804.5M497 819.2L499.1 819.2L502.25 818.15L504.35 816.05M503.3 810.8L503.3 807.65L502.25 805.55M513.8 819.2L510.65 820.25L509.6 822.35L509.6 823.4L510.65 825.5L513.8 826.55L520.1 826.55L523.25 825.5L524.3 823.4L524.3 822.35L523.25 820.25L520.1 819.2L514.85 819.2L511.7 818.15L510.65 817.1L511.7 819.2L514.85 820.25L520.1 820.25L523.25 821.3L524.3 822.35M510.65 817.1L510.65 816.05L511.7 813.95L512.75 812.9L511.7 810.8L511.7 808.7L512.75 806.6L513.8 805.55L512.75 807.65L512.75 811.85L513.8 813.95L515.9 815L518 815L520.1 813.95L521.15 811.85L521.15 807.65L520.1 805.55L518 804.5L515.9 804.5L513.8 805.55M512.75 812.9L513.8 813.95M520.1 805.55L521.15 806.6L522.2 808.7L522.2 810.8L521.15 812.9L520.1 813.95M521.15 806.6L522.2 805.55L524.3 804.5L524.3 805.55L522.2 805.55M536.9 792.95L536.9 826.55M530.6 792.95L537.95 792.95L537.95 826.55L530.6 826.55M61 308.75L38.95 308.75L42.1 311.9L43.15 314M40 309.8L61 309.8M61 312.53L61 305.39M38.95 289.85L40 293L43.15 295.1L48.4 296.15L51.55 296.15L56.8 295.1L59.95 293L61 289.85L59.95 291.95L58.9 293L56.8 294.05L51.55 295.1L48.4 295.1L43.15 294.05L41.05 293L40 291.95L38.95 289.85L38.95 287.75L40 284.6L43.15 282.5L48.4 281.45L51.55 281.45L56.8 282.5L59.95 284.6L61 287.75L59.95 285.65L58.9 284.6L56.8 283.55L51.55 282.5L48.4 282.5L43.15 283.55L41.05 284.6L40 285.65L38.95 287.75M61 289.85L61 287.75M38.95 268.85L40 272L43.15 274.1L48.4 275.15L51.55 275.15L56.8 274.1L59.95 272L61 268.85L59.95 270.95L58.9 272L56.8 273.05L51.55 274.1L48.4 274.1L43.15 273.05L41.05 272L40 270.95L38.95 268.85L38.95 266.75L40 263.6L43.15 261.5L48.4 260.45L51.55 260.45L56.8 261.5L59.95 263.6L61 266.75L59.95 264.65L58.9 263.6L56.8 262.55L51.55 261.5L48.4 261.5L43.15 262.55L41.05 263.6L40 264.65L38.95 266.75M61 268.85L61 266.75M36.85 164.25L41.05 166.35L44.2 167.4L49.45 168.45L53.65 168.45L58.9 167.4L62.05 166.35L66.25 164.25L63.1 166.35L58.9 168.45L53.65 169.5L49.45 169.5L44.2 168.45L40 166.35L36.85 164.25L34.75 162.15M66.25 164.25L68.35 162.15M50.29 156.3L47.88 155.25L46.2 153.36L45.77 151.16L46.51 149.37L48.4 148.74L51.02 149.58L54.28 150.63L57.22 150.95L59.63 149.9L61 147.69L60.69 145.59L58.59 143.18L55.65 140.97L51.66 138.87L47.88 137.82L44.09 137.4L41.36 137.82L39.47 139.08L38.95 141.29L39.47 143.39L41.16 144.75L43.57 144.75L46.2 143.91L49.24 142.12L51.66 139.92L53.23 136.98M46.2 152.47L45.77 150.26L46.51 148.48L48.4 147.85L51.02 148.69L54.28 149.74L57.22 150.05L59.63 149L61 146.8L60.69 144.7L58.59 142.28L55.65 140.08L51.66 137.98L47.88 136.93L44.09 136.51L41.36 136.93L39.47 138.19L38.95 140.39L39.47 142.49L41.16 143.86L43.57 143.86L46.2 143.02L49.24 141.23L51.66 139.03M36.85 128.9L41.05 126.8L44.2 125.75L49.45 124.7L53.65 124.7L58.9 125.75L62.05 126.8L66.25 128.9L63.1 126.8L58.9 124.7L53.65 123.65L49.45 123.65L44.2 124.7L40 126.8L36.85 128.9L34.75 131M66.25 128.9L68.35 131M92.9 693.25L70.85 693.25L74 696.4L75.05 698.5M71.9 694.3L92.9 694.3M92.9 697.03L92.9 689.89M70.85 674.35L71.9 677.5L75.05 679.6L80.3 680.65L83.45 680.65L88.7 679.6L91.85 677.5L92.9 674.35L91.85 676.45L90.8 677.5L88.7 678.55L83.45 679.6L80.3 679.6L75.05 678.55L72.95 677.5L71.9 676.45L70.85 674.35L70.85 672.25L71.9 669.1L75.05 667L80.3 665.95L83.45 665.95L88.7 667L91.85 669.1L92.9 672.25L91.85 670.15L90.8 669.1L88.7 668.05L83.45 667L80.3 667L75.05 668.05L72.95 669.1L71.9 670.15L70.85 672.25M92.9 674.35L92.9 672.25M63.46 654.54L63.46 657.1L64.1 659.02L64.74 659.66L66.02 660.3L66.66 660.3L67.3 659.66L66.66 659.02L66.02 659.66M63.46 654.54L64.1 652.62L65.38 651.98L67.3 651.98L68.58 652.62L69.22 654.54L69.22 656.46M63.46 654.54L64.1 653.26L65.38 652.62L67.3 652.62L68.58 653.26L69.22 654.54L69.86 653.26L71.14 651.98L72.42 651.34L74.34 651.34L75.62 651.98L76.26 652.62L76.9 654.54L76.9 657.1L76.26 659.02L75.62 659.66L74.34 660.3L73.7 660.3L73.06 659.66L73.7 659.02L74.34 659.66M76.9 654.54L76.26 653.26L75.62 652.62L74.34 651.98L72.42 651.98L70.5 652.62M68.75 556.35L72.95 558.45L76.1 559.5L81.35 560.55L85.55 560.55L90.8 559.5L93.95 558.45L98.15 556.35L95 558.45L90.8 560.55L85.55 561.6L81.35 561.6L76.1 560.55L71.9 558.45L68.75 556.35L66.65 554.25M98.15 556.35L100.25 554.25M82.19 548.1L79.78 547.05L78.09 545.16L77.68 542.96L78.41 541.17L80.3 540.54L82.93 541.38L86.18 542.43L89.12 542.75L91.54 541.7L92.9 539.49L92.59 537.39L90.48 534.98L87.55 532.77L83.56 530.67L79.78 529.62L76 529.2L73.27 529.62L71.38 530.88L70.85 533.09L71.38 535.19L73.06 536.55L75.47 536.55L78.09 535.71L81.14 533.93L83.56 531.72L85.13 528.78M78.09 544.27L77.68 542.06L78.41 540.28L80.3 539.65L82.93 540.49L86.18 541.54L89.12 541.85L91.54 540.8L92.9 538.6L92.59 536.5L90.48 534.08L87.55 531.88L83.56 529.78L79.78 528.73L76 528.31L73.27 528.73L71.38 529.99L70.85 532.19L71.38 534.29L73.06 535.66L75.47 535.66L78.09 534.82L81.14 533.03L83.56 530.83M68.75 521L72.95 518.9L76.1 517.85L81.35 516.8L85.55 516.8L90.8 517.85L93.95 518.9L98.15 521L95 518.9L90.8 516.8L85.55 515.75L81.35 515.75L76.1 516.8L71.9 518.9L68.75 521L66.65 523.1M98.15 521L100.25 523.1M92.9 506.65L91.85 507.7L90.8 506.65L91.85 505.6L93.95 505.6L96.05 506.65L97.1 507.7M85.55 466.6L89.75 466.6L91.85 468.7L92.9 471.85L92.9 475L91.85 478.15L89.75 480.25L86.6 481.3L92.9 481.3L89.75 480.25M85.55 466.6L83.45 468.7L82.4 470.8L80.3 477.1L79.25 479.2L78.2 480.25L76.1 481.3L78.2 479.2L79.25 477.1L81.35 470.8L82.4 468.7L83.45 467.65L85.55 466.6M74 467.65L70.85 466.6L77.15 466.6L74 467.65L71.9 469.75L70.85 472.9L70.85 476.05L71.9 479.2L74 481.3L76.1 481.3M70.85 458.2L92.9 458.2M70.85 457.15L92.9 457.15M70.85 461.35L70.85 448.75L71.9 445.6L72.95 444.55L75.05 443.5L78.2 443.5L80.3 444.55L81.35 445.6L82.4 448.75L82.4 457.15M70.85 448.75L71.9 446.65L72.95 445.6L75.05 444.55L78.2 444.55L80.3 445.6L81.35 446.65L82.4 448.75M92.9 461.35L92.9 454M70.85 430.9L92.9 430.9M70.85 429.85L92.9 429.85M92.9 434.05L92.9 426.7M70.85 437.2L77.15 438.25L70.85 438.25L70.85 422.5L77.15 422.5L70.85 423.55" fill="none" stroke="#000" stroke-width="2.3" stroke-linecap="round" stroke-linejoin="round"/>
<path d="M46.24 235.9L60.8 231.9L57.68 230.9L46.24 233.9M46.24 227.9L60.8 223.9L47.28 219.9L46.24 221.9M46.24 227.9L57.68 230.9M46.24 227.9L46.24 225.9L57.68 222.9M47.28 219.9L46.24 217.9M46.24 234.9L57.68 231.9M46.24 226.9L57.68 223.9M46.24 238.9L46.24 230.9M46.24 222.9L46.24 216.9M46.24 237.9L47.28 234.9M47.28 233.9L46.24 231.9M77.84 627.8L92.4 623.8L89.28 622.8L77.84 625.8M77.84 619.8L92.4 615.8L78.88 611.8L77.84 613.8M77.84 619.8L89.28 622.8M77.84 619.8L77.84 617.8L89.28 614.8M78.88 611.8L77.84 609.8M77.84 626.8L89.28 623.8M77.84 618.8L89.28 615.8M77.84 630.8L77.84 622.8M77.84 614.8L77.84 608.8M77.84 629.8L78.88 626.8M78.88 625.8L77.84 623.8" fill="none" stroke="#000" stroke-width="1.9" stroke-linecap="round" stroke-linejoin="round"/>
<path d="M50.7 211.56L50.7 207.6L49.98 205.62L48.56 204.96L47.84 205.62L47.13 207.6L47.13 210.24L46.41 212.22L45.7 212.88L44.27 213.54L44.99 212.88L45.7 210.9L45.7 207.6L46.41 205.62L47.84 204.96L48.56 204.96M50.7 211.56L49.98 213.54L48.56 214.2L47.84 214.2L46.41 213.54L45.7 211.56L46.41 212.88L47.84 213.54L48.56 213.54L49.98 212.88L50.7 211.56M45.7 212.22L46.41 210.24L46.41 207.6L47.13 205.62M44.27 213.54L43.56 213.54L42.13 212.88L41.42 212.22L39.99 212.88L38.56 212.88L37.13 212.22L36.42 211.56L35.7 210.24L35.7 208.92L36.42 207.6L37.13 206.94L38.56 206.28L39.99 206.28L41.42 206.94L42.13 207.6L42.84 208.92L42.84 210.24L42.13 211.56L41.42 212.22M37.13 211.56L38.56 212.22L39.99 212.22L41.42 211.56M35.7 210.24L36.42 210.9L37.85 211.56L40.7 211.56L42.13 210.9L42.84 210.24M35.7 208.92L36.42 208.26L37.85 207.6L40.7 207.6L42.13 208.26L42.84 208.92M41.42 207.6L39.99 206.94L38.56 206.94L37.13 207.6L36.42 206.94L35.7 205.62L35.7 204.96L36.42 204.3L37.13 204.96L36.42 205.62M50.7 199.02L50.7 195.06L49.98 193.08L48.56 192.42L47.84 193.08L47.13 195.06L47.13 197.7L46.41 199.68L45.7 200.34L44.27 201L44.99 200.34L45.7 198.36L45.7 195.06L46.41 193.08L47.84 192.42L48.56 192.42M50.7 199.02L49.98 201L48.56 201.66L47.84 201.66L46.41 201L45.7 199.02L46.41 200.34L47.84 201L48.56 201L49.98 200.34L50.7 199.02M45.7 199.68L46.41 197.7L46.41 195.06L47.13 193.08M44.27 201L43.56 201L42.13 200.34L41.42 199.68L39.99 200.34L38.56 200.34L37.13 199.68L36.42 199.02L35.7 197.7L35.7 196.38L36.42 195.06L37.13 194.4L38.56 193.74L39.99 193.74L41.42 194.4L42.13 195.06L42.84 196.38L42.84 197.7L42.13 199.02L41.42 199.68M37.13 199.02L38.56 199.68L39.99 199.68L41.42 199.02M35.7 197.7L36.42 198.36L37.85 199.02L40.7 199.02L42.13 198.36L42.84 197.7M35.7 196.38L36.42 195.72L37.85 195.06L40.7 195.06L42.13 195.72L42.84 196.38M41.42 195.06L39.99 194.4L38.56 194.4L37.13 195.06L36.42 194.4L35.7 193.08L35.7 192.42L36.42 191.76L37.13 192.42L36.42 193.08" fill="none" stroke="#000" stroke-width="1.65" stroke-linecap="round" stroke-linejoin="round"/>
<path d="M66.7 603.48L77.2 606M66.7 602.69L77.2 605.21M67.45 605.28L66.7 604.56L66.7 603.12M67.45 596.64L66.7 597.36L66.7 598.08L67.83 599.52L70.45 601.68L71.5 603.98M71.5 603.98L71.8 602.04L73.08 600.6L76.3 599.52L77.2 598.8L77.2 597.72L76.08 596.78M71.35 602.04L72.4 600.96L76 600.02L76.98 599.09M82.2 591.53L82.2 587.81L81.48 585.81L80.06 584.92L79.34 585.4L78.63 587.13L78.63 589.61L77.91 591.33L77.2 591.81L75.77 592.16L76.49 591.68L77.2 589.95L77.2 586.85L77.91 585.13L79.34 584.78L80.06 584.92M82.2 591.53L81.48 593.25L80.06 593.6L79.34 593.46L77.91 592.57L77.2 590.57L77.91 591.95L79.34 592.84L80.06 592.98L81.48 592.63L82.2 591.53M77.2 591.19L77.91 589.47L77.91 586.99L78.63 585.27M75.77 592.16L75.06 592.03L73.63 591.13L72.92 590.38L71.49 590.72L70.06 590.45L68.63 589.56L67.92 588.8L67.2 587.42L67.2 586.18L67.92 585.08L68.63 584.6L70.06 584.25L71.49 584.52L72.92 585.42L73.63 586.17L74.34 587.55L74.34 588.79L73.63 589.89L72.92 590.38M68.63 588.94L70.06 589.83L71.49 590.1L72.92 589.76M67.2 587.42L67.92 588.18L69.35 589.07L72.2 589.62L73.63 589.27L74.34 588.79M67.2 586.18L67.92 585.7L69.35 585.35L72.2 585.9L73.63 586.79L74.34 587.55M72.92 586.04L71.49 585.14L70.06 584.87L68.63 585.22L67.92 584.46L67.2 583.08L67.2 582.46L67.92 581.98L68.63 582.74L67.92 583.22" fill="none" stroke="#000" stroke-width="1.95" stroke-linecap="round" stroke-linejoin="round"/>
</svg></body></html>
